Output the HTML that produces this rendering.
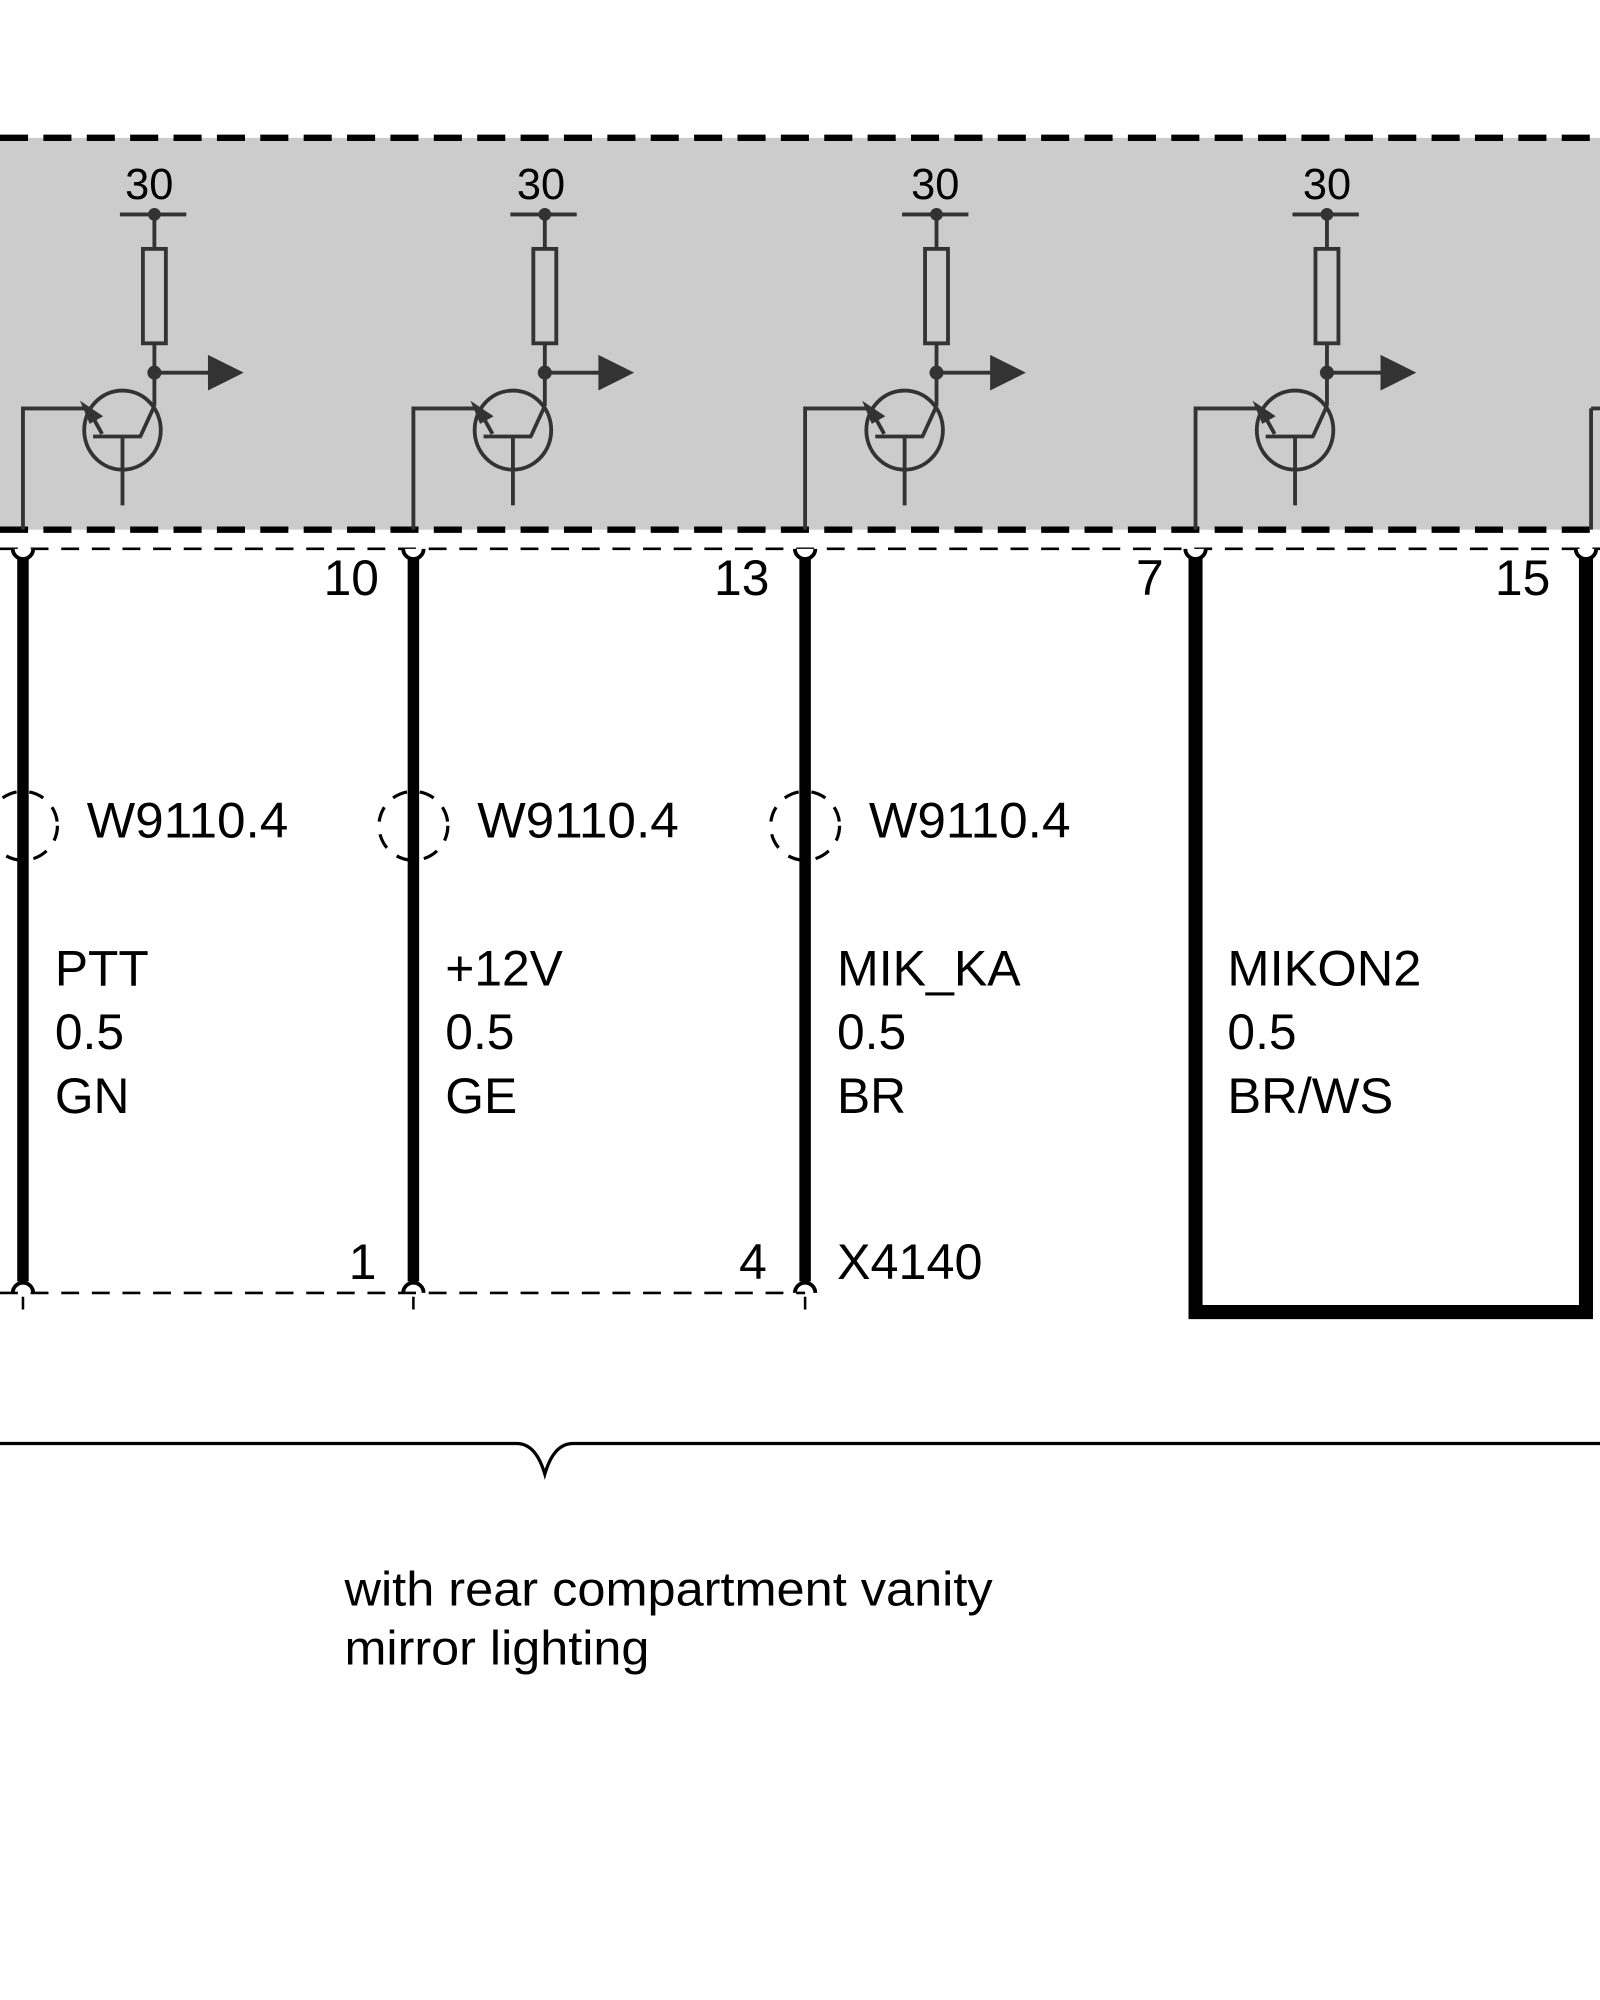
<!DOCTYPE html>
<html><head><meta charset="utf-8"><style>
html,body{margin:0;padding:0;background:#fff;}
svg{display:block;}
text{font-family:"Liberation Sans",Arial,sans-serif;fill:#000;}
</style></head><body>
<svg width="1600" height="2000" viewBox="0 0 1254 1567" preserveAspectRatio="none" xmlns="http://www.w3.org/2000/svg">
<rect x="0" y="108" width="1254" height="307" fill="#cccccc"/>
<line x1="0" y1="108" x2="1254" y2="108" stroke="#000" stroke-width="5" stroke-dasharray="22,12"/>
<line x1="0" y1="415" x2="1254" y2="415" stroke="#000" stroke-width="5" stroke-dasharray="22,12"/>
<line x1="0" y1="430" x2="1254" y2="430" stroke="#000" stroke-width="2" stroke-dasharray="14,10"/>

<defs>
<g id="mod" stroke="#333" stroke-width="3" fill="none">
  <line x1="76" y1="168" x2="128" y2="168"/>
  <circle cx="103" cy="168" r="5" fill="#333" stroke="none"/>
  <line x1="103" y1="168" x2="103" y2="195"/>
  <rect x="94" y="195" width="18" height="74"/>
  <line x1="103" y1="269" x2="103" y2="318"/>
  <circle cx="103" cy="292" r="5.5" fill="#333" stroke="none"/>
  <line x1="103" y1="292" x2="150" y2="292"/>
  <polygon points="145,278 173,292 145,306" fill="#333" stroke="none"/>
  <ellipse cx="78" cy="337" rx="30" ry="31"/>
  <line x1="103" y1="318" x2="92" y2="342"/>
  <line x1="55" y1="342" x2="93" y2="342"/>
  <line x1="78" y1="342" x2="78" y2="396"/>
  <line x1="62" y1="340" x2="52" y2="322"/>
  <polygon points="48,318 60,326 53,330" fill="#333"/>
  <polyline points="50,320 0,320 0,415"/>
</g>
</defs>
<use href="#mod" x="18"/>
<use href="#mod" x="324"/>
<use href="#mod" x="631"/>
<use href="#mod" x="937"/>
<line x1="1247" y1="320" x2="1247" y2="415" stroke="#333" stroke-width="3"/>
<line x1="1247" y1="320" x2="1254" y2="320" stroke="#333" stroke-width="3"/>
<g font-size="34" text-anchor="middle">
<text x="117" y="156">30</text><text x="424" y="156">30</text><text x="733" y="156">30</text><text x="1040" y="156">30</text>
</g>

<g stroke="#000" fill="none">
  <line x1="18" y1="436" x2="18" y2="1004" stroke-width="9"/>
  <line x1="324" y1="436" x2="324" y2="1004" stroke-width="9"/>
  <line x1="631" y1="436" x2="631" y2="1004" stroke-width="9"/>
  <polyline points="937,436 937,1028 1243,1028 1243,436" stroke-width="11"/>
  <g stroke-width="3" fill="#fff">
    <path d="M10,430 A8,8 0 0 0 26,430"/><path d="M316,430 A8,8 0 0 0 332,430"/>
    <path d="M623,430 A8,8 0 0 0 639,430"/><path d="M929,430 A8,8 0 0 0 945,430"/>
    <path d="M1235,430 A8,8 0 0 0 1251,430"/>
    <path d="M10,1013 A8,8 0 0 1 26,1013"/><path d="M316,1013 A8,8 0 0 1 332,1013"/>
    <path d="M623,1013 A8,8 0 0 1 639,1013"/>
  </g>
  <line x1="0" y1="1013" x2="631" y2="1013" stroke-width="2" stroke-dasharray="14,10"/>
  <g stroke-width="2"><line x1="18" y1="1016" x2="18" y2="1026"/><line x1="324" y1="1016" x2="324" y2="1026"/><line x1="631" y1="1016" x2="631" y2="1026"/></g>
  <g stroke-width="2.5" stroke-dasharray="12,10">
    <circle cx="18" cy="647" r="27"/><circle cx="324" cy="647" r="27"/><circle cx="631" cy="647" r="27"/>
  </g>
  <path d="M0,1131 L405,1131 Q420,1131 427,1155 Q434,1131 449,1131 L1254,1131" stroke-width="2.5"/>
</g>

<g font-size="39">
<text x="297" y="466" text-anchor="end">10</text>
<text x="603" y="466" text-anchor="end">13</text>
<text x="912" y="466" text-anchor="end">7</text>
<text x="1215" y="466" text-anchor="end">15</text>
<text x="68" y="656" textLength="158" lengthAdjust="spacingAndGlyphs">W9110.4</text>
<text x="374" y="656" textLength="158" lengthAdjust="spacingAndGlyphs">W9110.4</text>
<text x="681" y="656" textLength="158" lengthAdjust="spacingAndGlyphs">W9110.4</text>
<text x="43" y="772">PTT</text><text x="43" y="822">0.5</text><text x="43" y="872">GN</text>
<text x="349" y="772">+12V</text><text x="349" y="822">0.5</text><text x="349" y="872">GE</text>
<text x="656" y="772" textLength="144" lengthAdjust="spacingAndGlyphs">MIK_KA</text><text x="656" y="822">0.5</text><text x="656" y="872">BR</text>
<text x="962" y="772" textLength="152" lengthAdjust="spacingAndGlyphs">MIKON2</text><text x="962" y="822">0.5</text><text x="962" y="872" textLength="130" lengthAdjust="spacingAndGlyphs">BR/WS</text>
<text x="295" y="1002" text-anchor="end">1</text>
<text x="601" y="1002" text-anchor="end">4</text>
<text x="656" y="1002" textLength="114" lengthAdjust="spacingAndGlyphs">X4140</text>
</g>
<g font-size="38">
<text x="270" y="1258" textLength="508" lengthAdjust="spacingAndGlyphs">with rear compartment vanity</text>
<text x="270" y="1304" textLength="239" lengthAdjust="spacingAndGlyphs">mirror lighting</text>
</g>
</svg>
</body></html>
